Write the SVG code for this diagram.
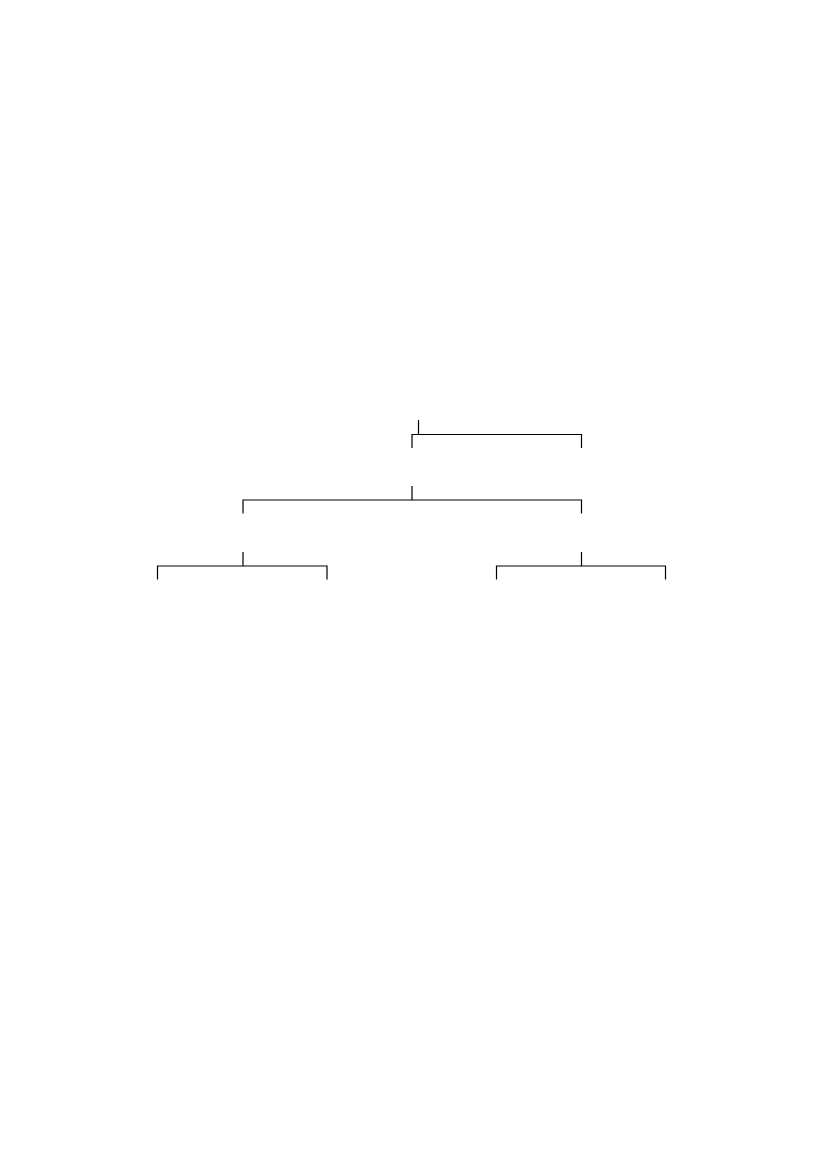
<svg xmlns="http://www.w3.org/2000/svg" width="827" height="1169" viewBox="0 0 827 1169">
<style>
.c{fill:none;stroke:#000;stroke-width:1.2;stroke-linecap:butt}
</style>
<rect width="827" height="1169" fill="#fff"/>
<g id="connectors">
<path class="c" d="M418.5,420 V434.5 M412,448 V434.5 H581.5 V448"/>
<path class="c" d="M412,486 V500 M243,513.5 V500 H581.5 V513.5"/>
<path class="c" d="M243,552 V566 M157.5,579.5 V566 H327 V579.5"/>
<path class="c" d="M581.5,552 V566 M496.5,579.5 V566 H665.5 V579.5"/>
</g>
</svg>
